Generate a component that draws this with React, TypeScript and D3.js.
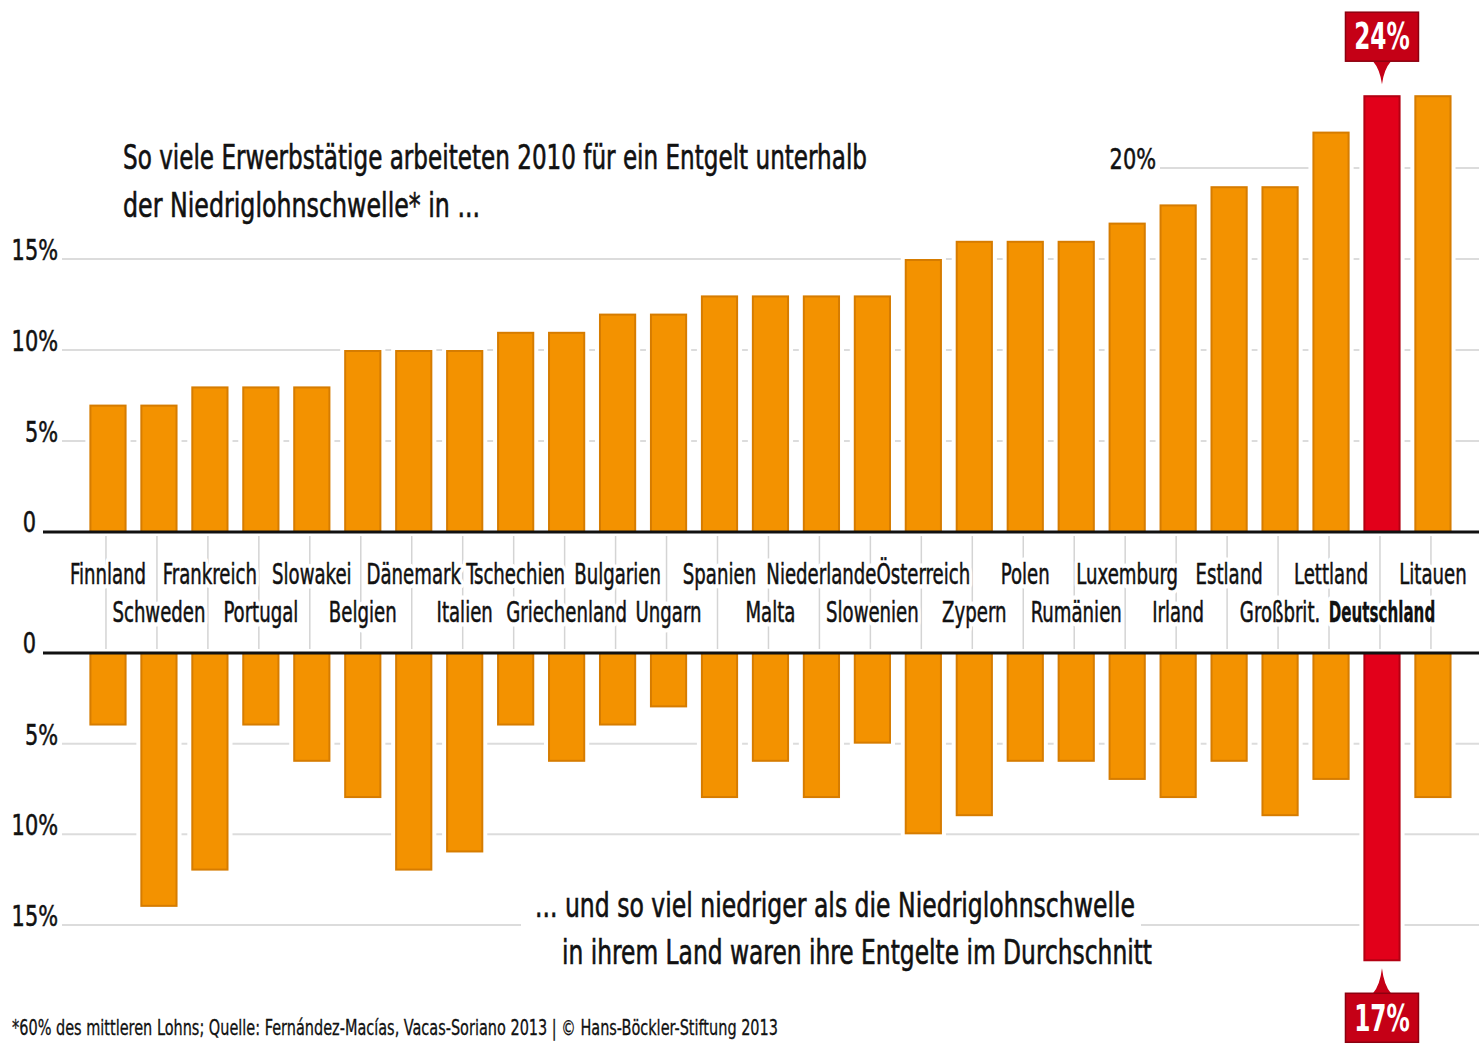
import React from "react";
import * as d3 from "d3";

const countries = [
  "Finnland", "Schweden", "Frankreich", "Portugal", "Slowakei", "Belgien", "Dänemark",
  "Italien", "Tschechien", "Griechenland", "Bulgarien", "Ungarn", "Spanien", "Malta",
  "Niederlande", "Slowenien", "Österreich", "Zypern", "Polen", "Rumänien", "Luxemburg",
  "Irland", "Estland", "Großbrit.", "Lettland", "Deutschland", "Litauen",
];
// share of employees below low-wage threshold (%)
const shareBelow = [7, 7, 8, 8, 8, 10, 10, 10, 11, 11, 12, 12, 13, 13, 13, 13, 15, 16, 16, 16, 17, 18, 19, 19, 22, 24, 24];
// how far below the threshold on average (%)
const gapBelow = [4, 14, 12, 4, 6, 8, 12, 11, 4, 6, 4, 3, 8, 6, 8, 5, 10, 9, 6, 6, 7, 8, 6, 9, 7, 17, 8];
const highlight = "Deutschland";
const topTicks = [5, 10, 15, 20];
const bottomTicks = [5, 10, 15];
const titleLines = [
  "So viele Erwerbstätige arbeiteten 2010 für ein Entgelt unterhalb",
  "der Niedriglohnschwelle* in ...",
];
const bottomLines = [
  "... und so viel niedriger als die Niedriglohnschwelle",
  "in ihrem Land waren ihre Entgelte im Durchschnitt",
];
const footnote =
  "*60% des mittleren Lohns; Quelle: Fernández-Macías, Vacas-Soriano 2013 | © Hans-Böckler-Stiftung 2013";

const W = 1479;
const H = 1045;
const FONT = "'Liberation Sans Narrow', 'DejaVu Sans Condensed', 'Arial Narrow', sans-serif";
const SX_LABEL = 0.72;
const SX_BOLD = 0.6;
const SX_TICK = 0.8;
const SX_CALL = 0.68;
const INK = "#111";
const ORANGE = "#f39200";
const ORANGE_EDGE = "#d67c00";
const RED = "#e2001a";
const RED_EDGE = "#b30012";
const CALLOUT = "#c50016";
const GRID = "#dcdcdc";

export default function App() {
  const x = d3
    .scaleBand<string>()
    .domain(countries)
    .range([82.5, 82.5 + 27 * 50.96])
    .paddingInner(0.27)
    .paddingOuter(0.135);
  const bw = x.bandwidth();
  const yTop = d3.scaleLinear().domain([0, 20]).range([532, 168]);
  const yBot = d3.scaleLinear().domain([0, 15]).range([653, 925]);

  const hiIdx = countries.indexOf(highlight);
  const hiCx = (x(highlight) as number) + bw / 2;
  const topTip = yTop(shareBelow[hiIdx]) - 11;
  const botTip = yBot(gapBelow[hiIdx]) + 7;

  const stext = (
    key: string,
    tx: number,
    ty: number,
    content: string,
    size: number,
    anchor: "start" | "middle" | "end",
    sx: number,
    extra: any = {}
  ) => (
    <text
      key={key}
      transform={`translate(${tx},${ty}) scale(${sx},1)`}
      textAnchor={anchor}
      fontFamily={FONT}
      fontSize={size}
      fill={INK}
      stroke={INK}
      strokeWidth={0.5}
      {...extra}
    >
      {content}
    </text>
  );

  const calloutPath = (cx: number, boxY: number, boxH: number, tipY: number, down: boolean) => {
    const baseY = down ? boxY + boxH : boxY;
    const p = d3.path();
    p.moveTo(cx - 9, baseY);
    p.quadraticCurveTo(cx - 2, baseY + (down ? 8 : -8), cx, tipY);
    p.quadraticCurveTo(cx + 2, baseY + (down ? 8 : -8), cx + 9, baseY);
    p.closePath();
    return p.toString();
  };

  const boxW = 73;
  const boxH = 49;
  const topBoxY = topTip - 23 - boxH;
  const botBoxY = botTip + 25;

  const labelPos = (c: string, i: number) => ({
    cx: (x(c) as number) + bw / 2,
    cy: i % 2 === 0 ? 584 : 622,
    bold: c === highlight,
  });

  return (
    <svg
      width={W}
      height={H}
      style={{ position: "absolute", left: 0, top: 0, background: "#fff" }}
    >
      <rect x={0} y={0} width={W} height={H} fill="#fff" />

      {/* top gridlines */}
      {topTicks.map((t) => (
        <line
          key={"tg" + t}
          x1={t === 20 ? 1160 : 62}
          x2={W}
          y1={yTop(t)}
          y2={yTop(t)}
          stroke={GRID}
          strokeWidth={2}
        />
      ))}
      {/* bottom gridlines */}
      {bottomTicks.map((t) => (
        <line
          key={"bg" + t}
          x1={62}
          x2={W}
          y1={yBot(t)}
          y2={yBot(t)}
          stroke={GRID}
          strokeWidth={2}
        />
      ))}
      {/* white area behind bottom text */}
      <rect x={521} y={885} width={620} height={85} fill="#fff" />

      {/* vertical leader lines between axes */}
      {countries.map((c) => {
        const cx = (x(c) as number) + bw / 2 - 2;
        return (
          <line
            key={"v" + c}
            x1={cx}
            x2={cx}
            y1={yTop(0) + 4}
            y2={yBot(0) - 4}
            stroke="#d4d4d4"
            strokeWidth={1.5}
          />
        );
      })}

      {/* top bars */}
      {countries.map((c, i) => {
        const bx = x(c) as number;
        const y0 = yTop(shareBelow[i]);
        const hi = c === highlight;
        return (
          <g key={"tb" + c}>
            <rect x={bx - 4} y={y0 - 4} width={bw + 8} height={yTop(0) - y0 + 4} fill="#fff" />
            <rect
              x={bx + 1}
              y={y0 + 1}
              width={bw - 2}
              height={yTop(0) - y0 - 1}
              fill={hi ? RED : ORANGE}
              stroke={hi ? RED_EDGE : ORANGE_EDGE}
              strokeWidth={2}
            />
          </g>
        );
      })}
      {/* bottom bars */}
      {countries.map((c, i) => {
        const bx = x(c) as number;
        const y1 = yBot(gapBelow[i]);
        const hi = c === highlight;
        return (
          <g key={"bb" + c}>
            <rect x={bx - 4} y={yBot(0)} width={bw + 8} height={y1 - yBot(0) + 4} fill="#fff" />
            <rect
              x={bx + 1}
              y={yBot(0)}
              width={bw - 2}
              height={y1 - yBot(0) - 1}
              fill={hi ? RED : ORANGE}
              stroke={hi ? RED_EDGE : ORANGE_EDGE}
              strokeWidth={2}
            />
          </g>
        );
      })}

      {/* zero lines */}
      <line x1={43} x2={W} y1={yTop(0)} y2={yTop(0)} stroke="#111" strokeWidth={3} />
      <line x1={43} x2={W} y1={yBot(0)} y2={yBot(0)} stroke="#111" strokeWidth={3} />

      {/* axis labels */}
      {topTicks
        .filter((t) => t !== 20)
        .map((t) => stext("tl" + t, 58, yTop(t) + 1, `${t}%`, 29, "end", SX_TICK))}
      {stext("tl20", 1156, yTop(20) + 1, "20%", 29, "end", SX_TICK)}
      {stext("tl0", 36, yTop(0), "0", 29, "end", SX_TICK)}
      {bottomTicks.map((t) => stext("bl" + t, 58, yBot(t) + 1, `${t}%`, 29, "end", SX_TICK))}
      {stext("bl0", 36, yBot(0), "0", 29, "end", SX_TICK)}

      {/* country label halos (break leader lines) */}
      <g aria-hidden="true">
        {countries.map((c, i) => {
          const { cx, cy, bold } = labelPos(c, i);
          return (
            <text
              key={"halo" + c}
              transform={`translate(${cx},${cy}) scale(${bold ? SX_BOLD : SX_LABEL},1)`}
              textAnchor="middle"
              fontFamily={FONT}
              fontSize={28}
              fontWeight={bold ? "bold" : "normal"}
              fill="#fff"
              stroke="#fff"
              strokeWidth={9}
              strokeLinejoin="round"
            >
              {c}
            </text>
          );
        })}
      </g>
      {/* country labels */}
      {countries.map((c, i) => {
        const { cx, cy, bold } = labelPos(c, i);
        return stext("cl" + c, cx, cy, c, 28, "middle", bold ? SX_BOLD : SX_LABEL, {
          fontWeight: bold ? "bold" : "normal",
          strokeWidth: bold ? 0.3 : 0.5,
        });
      })}

      {/* title */}
      {titleLines.map((l, i) => (
        <text
          key={"t" + i}
          x={123}
          y={169 + i * 48}
          fontFamily={FONT}
          fontSize={34}
          fill={INK}
          stroke={INK}
          strokeWidth={0.6}
          textLength={i === 0 ? 744 : 357}
          lengthAdjust="spacingAndGlyphs"
        >
          {l}
        </text>
      ))}
      {/* bottom text */}
      {bottomLines.map((l, i) => (
        <text
          key={"b" + i}
          x={i === 0 ? 535 : 562}
          y={917 + i * 47}
          fontFamily={FONT}
          fontSize={34}
          fill={INK}
          stroke={INK}
          strokeWidth={0.6}
          textLength={i === 0 ? 600 : 590}
          lengthAdjust="spacingAndGlyphs"
        >
          {l}
        </text>
      ))}

      {/* callouts */}
      <path d={calloutPath(hiCx, topBoxY, boxH, topTip, true)} fill={CALLOUT} />
      <rect
        x={hiCx - boxW / 2}
        y={topBoxY}
        width={boxW}
        height={boxH}
        fill={CALLOUT}
        stroke="#8c000f"
        strokeWidth={1.5}
      />
      {stext("c24", hiCx, topBoxY + 37, `${shareBelow[hiIdx]}%`, 38, "middle", SX_CALL, {
        fill: "#fff",
        stroke: "none",
        fontWeight: "bold",
      })}
      <path d={calloutPath(hiCx, botBoxY, boxH, botTip, false)} fill={CALLOUT} />
      <rect
        x={hiCx - boxW / 2}
        y={botBoxY}
        width={boxW}
        height={boxH}
        fill={CALLOUT}
        stroke="#8c000f"
        strokeWidth={1.5}
      />
      {stext("c17", hiCx, botBoxY + 38, `${gapBelow[hiIdx]}%`, 38, "middle", SX_CALL, {
        fill: "#fff",
        stroke: "none",
        fontWeight: "bold",
      })}

      {/* footnote */}
      <text
        x={12}
        y={1035}
        fontFamily={FONT}
        fontSize={21}
        fill={INK}
        stroke={INK}
        strokeWidth={0.3}
        textLength={766}
        lengthAdjust="spacingAndGlyphs"
      >
        {footnote}
      </text>
    </svg>
  );
}
